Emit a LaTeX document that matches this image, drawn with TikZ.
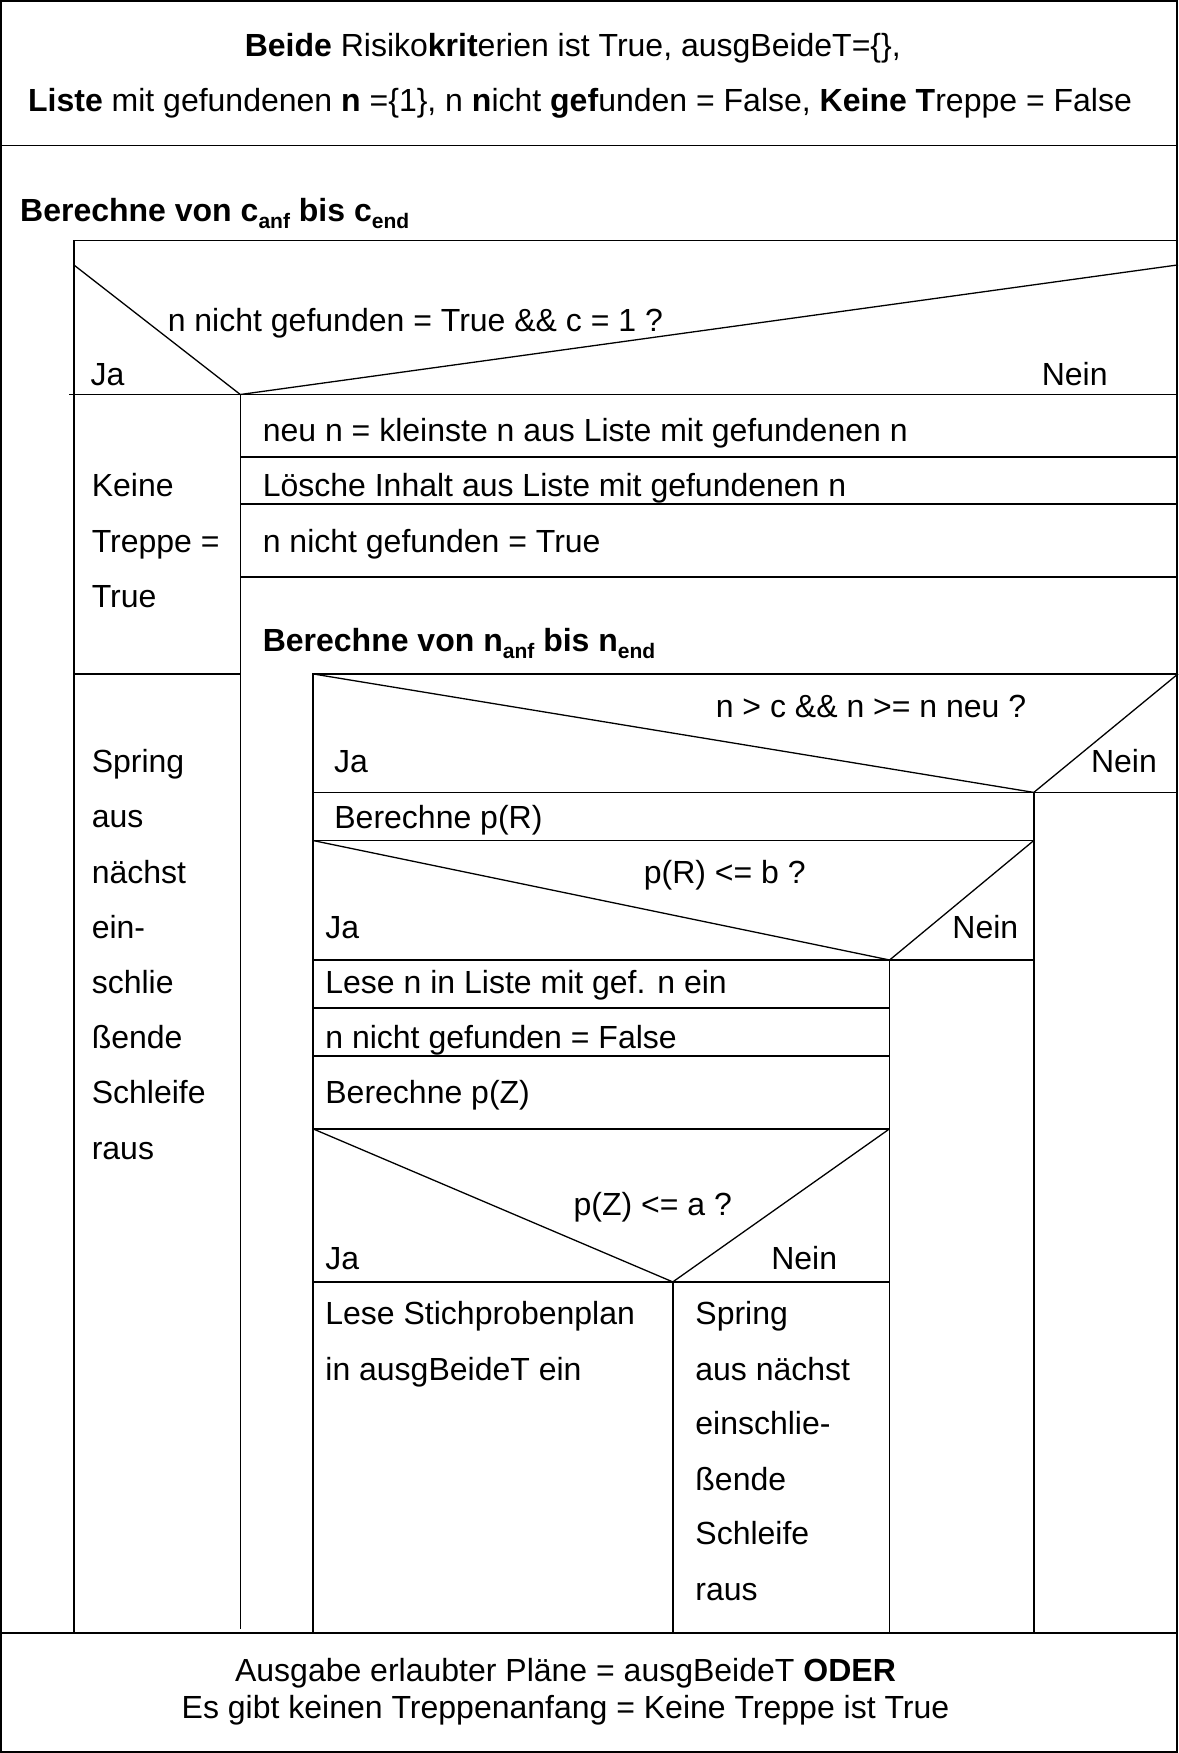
\documentclass[tikz,border=0pt]{standalone}
\usepackage{fontspec}
\setmainfont{Liberation Sans}
\newcommand\fsz{\fontsize{32}{38}\selectfont}
\newcommand\subx[1]{\raisebox{-0.22em}{\fontsize{21}{21}\selectfont #1}}
\tikzset{
  ln/.style={line width=1.6pt, black},
  dg/.style={line width=1.3pt, black},
  txt/.style={anchor=west, inner sep=0pt, text height=23pt, text depth=0pt, font=\fsz},
  ctxt/.style={anchor=center, inner sep=0pt, text height=23pt, text depth=0pt, font=\fsz},
}
\begin{document}
\begin{tikzpicture}[x=1pt,y=-1pt]
\useasboundingbox (0,0) rectangle (1178,1753);
% outer frame
\draw[ln, line width=2pt] (1,1) rectangle (1177,1752);
\draw[ln] (0,145.3) -- (1178,145.3);
\draw[ln] (0,1632.9) -- (1178,1632.9);
% title
\node[ctxt] (t1) at (572.8,44.7) {\textbf{Beide} Risiko\textbf{krit}erien ist True, ausgBeideT=\{\},};
\node[ctxt] (t2) at (580,99.5) {\textbf{Liste} mit gefundenen \textbf{n} =\{1\}, n \textbf{n}icht \textbf{gef}unden = False, \textbf{Keine T}reppe = False};
% outer loop
\node[txt] (loopc) at (20,210) {\textbf{Berechne von c\subx{anf} bis c\subx{end}}};
\draw[ln] (1178,240.3) -- (73.8,240.3) -- (73.8,1632.9);
% decision 1
\draw[dg] (73.8,264.9) -- (240.3,394.5) -- (1178,264.9);
\draw[ln] (69.3,394.5) -- (1178,394.5);
\node[txt] (c1) at (167.6,319.6) {n nicht gefunden = True \&\& c = 1 ?};
\node[txt] (ja1) at (90.5,374.4) {Ja};
\node[txt] (nein1) at (1041.6,374.4) {Nein};
% left column
\draw[ln] (240.3,394.5) -- (240.3,1629);
\draw[ln] (73.8,673.9) -- (240.3,673.9);
\node[txt] (k1) at (91.6,485) {Keine};
\node[txt] (k2) at (91.6,541) {Treppe =};
\node[txt] (k3) at (91.6,595.7) {True};
\node[txt] (s1) at (91.6,761) {Spring};
\node[txt] (s2) at (91.6,816) {aus};
\node[txt] (s3) at (91.6,871.7) {nächst};
\node[txt] (s4) at (91.6,926.5) {ein-};
\node[txt] (s5) at (91.6,982.4) {schlie};
\node[txt] (s6) at (91.6,1037) {ßende};
\node[txt] (s7) at (91.6,1092) {Schleife};
\node[txt] (s8) at (91.6,1147.8) {raus};
% right rows
\draw[ln] (240.3,457.1) -- (1178,457.1);
\draw[ln] (240.3,504.1) -- (1178,504.1);
\draw[ln] (240.3,576.7) -- (1178,576.7);
\node[txt] (r1) at (262.6,430.3) {neu n = kleinste n aus Liste mit gefundenen n};
\node[txt] (r2) at (262.6,485) {Lösche Inhalt aus Liste mit gefundenen n};
\node[txt] (r3) at (262.6,541) {n nicht gefunden = True};
% inner loop
\node[txt] (loopn) at (262.6,640.4) {\textbf{Berechne von n\subx{anf} bis n\subx{end}}};
\draw[ln] (1178,673.9) -- (312.9,673.9) -- (312.9,1632.9);
% decision 2
\draw[dg] (312.9,673.9) -- (1033.8,792.4) -- (1178,673.9);
\draw[ln] (312.9,792.4) -- (1178,792.4);
\draw[ln] (1033.8,792.4) -- (1033.8,1632.9);
\node[ctxt] (c2) at (871,706.3) {n > c \&\& n >= n neu ?};
\node[txt] (ja2) at (334,761) {Ja};
\node[txt] (nein2) at (1090.8,761) {Nein};
% Berechne p(R)
\node[txt] (pr) at (334.2,817) {Berechne p(R)};
\draw[ln] (312.9,840.5) -- (1033.8,840.5);
% decision 3
\draw[dg] (312.9,840.5) -- (889.6,960) -- (1033.8,840.5);
\draw[ln] (312.9,960) -- (1033.8,960);
\draw[ln] (889.6,960) -- (889.6,1632.9);
\node[ctxt] (c3) at (724.8,871.7) {p(R) <= b ?};
\node[txt] (ja3) at (325.2,926.5) {Ja};
\node[txt] (nein3) at (952.2,926.5) {Nein};
% rows
\draw[ln] (312.9,1008.1) -- (889.6,1008.1);
\draw[ln] (312.9,1056.1) -- (889.6,1056.1);
\draw[ln] (312.9,1128.8) -- (889.6,1128.8);
\node[txt] (q1) at (325.2,982.4) {Lese n in Liste mit gef. n ein};
\node[txt] (q2) at (325.2,1037) {n nicht gefunden = False};
\node[txt] (q3) at (325.2,1092) {Berechne p(Z)};
% decision 4
\draw[dg] (312.9,1128.8) -- (672.8,1281.9) -- (889.6,1128.8);
\draw[ln] (312.9,1281.9) -- (889.6,1281.9);
\draw[ln] (672.8,1281.9) -- (672.8,1632.9);
\node[ctxt] (c4) at (652.7,1203.7) {p(Z) <= a ?};
\node[txt] (ja4) at (325.2,1258.4) {Ja};
\node[txt] (nein4) at (771.1,1258.4) {Nein};
% branches
\node[txt] (l1) at (325.2,1313.2) {Lese Stichprobenplan};
\node[txt] (l2) at (325.2,1369) {in ausgBeideT ein};
\node[txt] (m1) at (695.2,1313.2) {Spring};
\node[txt] (m2) at (695.2,1369) {aus nächst};
\node[txt] (m3) at (695.2,1422.7) {einschlie-};
\node[txt] (m4) at (695.2,1478.6) {ßende};
\node[txt] (m5) at (695.2,1533.4) {Schleife};
\node[txt] (m6) at (695.2,1589.2) {raus};
% output
\node[ctxt] (o1) at (565.5,1669.7) {Ausgabe erlaubter Pläne = ausgBeideT \textbf{ODER}};
\node[ctxt] (o2) at (565.5,1706.6) {Es gibt keinen Treppenanfang = Keine Treppe ist True};
\end{tikzpicture}
\end{document}
